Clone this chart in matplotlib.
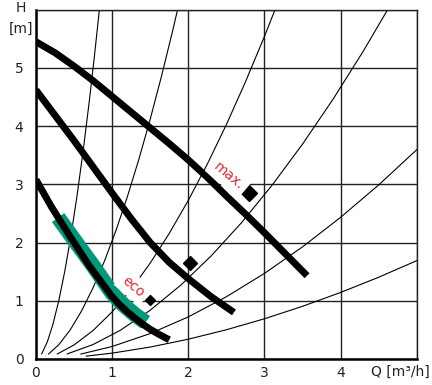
import matplotlib
matplotlib.use("Agg")
import matplotlib.pyplot as plt

# pump curves (Q in m3/h, H in m)
max_q = [0.0, 0.25, 0.5, 0.75, 1.0, 1.25, 1.5, 1.75, 2.0, 2.25, 2.5, 2.75, 3.0, 3.25, 3.56]
max_h = [5.45, 5.26, 5.03, 4.78, 4.51, 4.24, 3.97, 3.70, 3.42, 3.12, 2.8, 2.49, 2.17, 1.84, 1.43]

mid_q = [0.0, 0.5, 1.0, 1.25, 1.5, 1.75, 2.0, 2.3, 2.6]
mid_h = [4.62, 3.75, 2.85, 2.41, 2.0, 1.66, 1.38, 1.07, 0.8]

low_q = [0.0, 0.2, 0.44, 0.7, 1.0, 1.1, 1.2, 1.3, 1.4, 1.5, 1.62, 1.75]
low_h = [3.08, 2.62, 2.12, 1.6, 1.07, 0.93, 0.81, 0.7, 0.6, 0.51, 0.42, 0.33]

# eco band along the lowest curve
eco_q = [0.29, 0.5, 0.75, 1.0, 1.1, 1.2, 1.3, 1.44]
eco_h = [2.43, 2.05, 1.6, 1.13, 0.99, 0.87, 0.76, 0.63]

# system curves (thin lines)
sys1_q = [0.075, 0.15, 0.22, 0.3, 0.38, 0.46, 0.54, 0.62, 0.7, 0.77, 0.85]
sys1_h = [0.089, 0.299, 0.585, 1.005, 1.521, 2.125, 2.813, 3.583, 4.43, 5.234, 6.22]

sys2_q = [0.165, 0.3, 0.45, 0.6, 0.75, 0.9, 1.05, 1.2, 1.35, 1.5, 1.65, 1.8, 1.9]
sys2_h = [0.086, 0.246, 0.501, 0.829, 1.225, 1.685, 2.207, 2.788, 3.426, 4.119, 4.867, 5.667, 6.23]

sys3_q = [0.28, 0.5, 0.75, 1.0, 1.25, 1.5, 1.75, 2.0, 2.25, 2.5, 2.75, 3.0, 3.2]
sys3_h = [0.087, 0.241, 0.49, 0.81, 1.197, 1.647, 2.157, 2.724, 3.348, 4.026, 4.757, 5.54, 6.2]

sys4_q = [0.41, 0.75, 1.1, 1.5, 1.9, 2.3, 2.7, 3.1, 3.5, 3.9, 4.3, 4.7]
sys4_h = [0.087, 0.249, 0.487, 0.838, 1.267, 1.77, 2.343, 2.984, 3.69, 4.46, 5.291, 6.182]

sys5_q = [0.59, 1.0, 1.5, 2.0, 2.5, 3.0, 3.5, 4.0, 4.5, 5.0]
sys5_h = [0.085, 0.215, 0.437, 0.723, 1.069, 1.47, 1.926, 2.433, 2.989, 3.595]

sys6_q = [0.66, 1.0, 1.5, 2.0, 2.5, 3.0, 3.5, 4.0, 4.5, 5.0]
sys6_h = [0.049, 0.101, 0.205, 0.34, 0.502, 0.691, 0.905, 1.143, 1.404, 1.689]

# operating point markers
pt_q = [2.8, 2.02, 1.5]
pt_h = [2.86, 1.65, 1.02]
pt_size = [8, 7, 5]

x_ticks = [0, 1, 2, 3, 4, 5]
x_labels = ["0", "1", "2", "3", "4", ""]
y_ticks = [0, 1, 2, 3, 4, 5, 6]
y_labels = ["0", "1", "2", "3", "4", "5", ""]

red = "#e0283c"
green = "#00997a"

fig = plt.figure(figsize=(4.32, 3.85), dpi=100)
ax = fig.add_axes([36 / 432, 1 - 359 / 385, 380.7 / 432, 349.3 / 385])
ax.set_xlim(0, 5)
ax.set_ylim(0, 6)

ax.set_xticks(x_ticks)
ax.set_xticklabels(x_labels)
ax.set_yticks(y_ticks)
ax.set_yticklabels(y_labels)
ax.tick_params(length=0, labelsize=10, colors="#222222")
ax.tick_params(axis="y", pad=9)
ax.tick_params(axis="x", pad=5)
ax.grid(True, color="#222222", lw=1.0, zorder=0)
ax.set_axisbelow(True)
for side in ["top", "right"]:
    ax.spines[side].set_linewidth(1.0)
    ax.spines[side].set_color("#222222")
for side in ["left", "bottom"]:
    ax.spines[side].set_linewidth(1.8)
    ax.spines[side].set_color("black")

# system curves
for q, h in [(sys1_q, sys1_h), (sys2_q, sys2_h), (sys3_q, sys3_h),
             (sys4_q, sys4_h), (sys5_q, sys5_h), (sys6_q, sys6_h)]:
    ax.plot(q, h, color="black", lw=0.8, zorder=1)

# eco band and pump curves
ax.plot(eco_q, eco_h, color=green, lw=11, solid_capstyle="butt",
        solid_joinstyle="round", zorder=2)
for q, h in [(max_q, max_h), (mid_q, mid_h), (low_q, low_h)]:
    ax.plot(q, h, color="black", lw=5, solid_capstyle="butt",
            solid_joinstyle="round", zorder=3)

for q, h, s in zip(pt_q, pt_h, pt_size):
    ax.plot(q, h, marker="D", ms=s, color="black", lw=0, zorder=3)

box = dict(facecolor="white", edgecolor="none", pad=3)
ax.text(2.53, 3.14, "max.", color=red, fontsize=10, rotation=-40,
        ha="center", va="center", bbox=box, zorder=4)
ax.text(1.28, 1.24, "eco", color=red, fontsize=10, rotation=-40,
        ha="center", va="center", bbox=box, zorder=4)

# axis titles
fig.text(20.7 / 432, 1 - 7.5 / 385, "H", fontsize=10, color="#222222",
         ha="center", va="center")
fig.text(20.5 / 432, 1 - 28.5 / 385, "[m]", fontsize=10, color="#222222",
         ha="center", va="center")
fig.text(400 / 432, 1 - 372 / 385, "Q [m³/h]", fontsize=10, color="#222222",
         ha="center", va="center")

fig.savefig("out.png", dpi=100)
